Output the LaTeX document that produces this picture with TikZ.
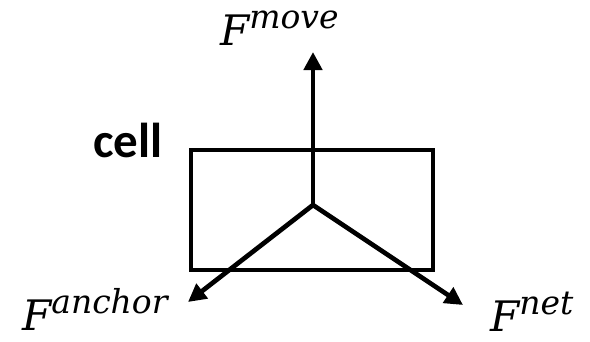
\documentclass[tikz,border=0pt]{standalone}
\usepackage{fontspec}
\newfontfamily\cellfont{Carlito}
\newfontfamily\forcefont{DejaVu Serif}
\usetikzlibrary{arrows.meta}
\newcommand{\forcelab}[1]{{\forcefont\itshape\fontsize{42}{44}\selectfont F\raisebox{17pt}{\fontsize{33}{34}\selectfont #1}}}
\tikzset{
  force/.style={line width=4.7pt,-{Triangle[length=18pt,width=18pt]}},
  flabel/.style={inner sep=0pt,anchor=base west,text depth=0pt}
}
\begin{document}
\begin{tikzpicture}[x=1pt,y=-1pt]
  \useasboundingbox (0,0) rectangle (590,341);
  % the cell
  \node[draw,line width=4.7pt,minimum width=242pt,minimum height=120pt,inner sep=0pt] (cellbox) at (312,210) {};
  \node[inner sep=0pt,font=\cellfont\bfseries\fontsize{49}{50}\selectfont] (celltext) at (128,140) {cell};
  % forces
  \coordinate (mid) at (313,205);
  \coordinate (tipmove) at (313,52);
  \coordinate (tipanchor) at (188,302);
  \coordinate (tipnet) at (463,305);
  \draw[force] (mid) -- (tipmove);
  \draw[force] (mid) -- (tipanchor);
  \draw[force] (mid) -- (tipnet);
  % labels
  \node[flabel] (fmove) at (220,45) {\forcelab{move}};
  \node[flabel] (fanchor) at (22,330) {\forcelab{anchor}};
  \node[flabel] (fnet) at (490,331) {\forcelab{net}};
\end{tikzpicture}
\end{document}
